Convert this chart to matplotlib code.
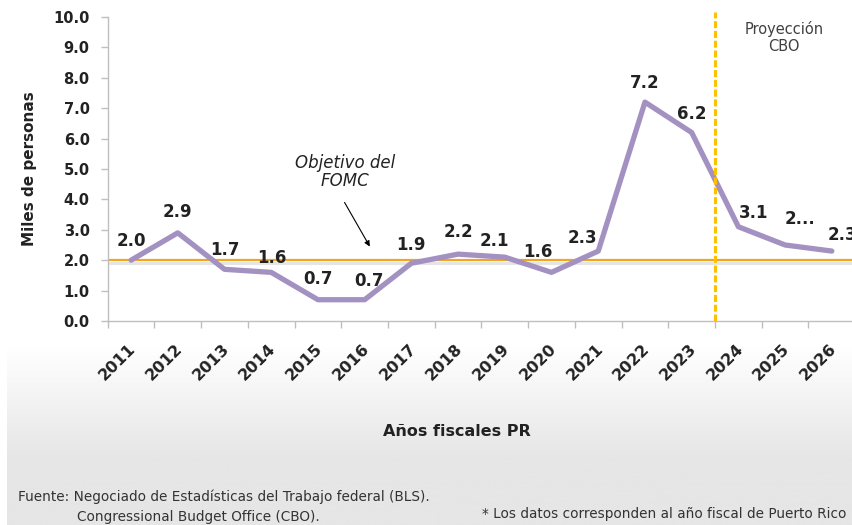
import numpy as np
import matplotlib
matplotlib.use("Agg")
import matplotlib.pyplot as plt
import matplotlib.transforms as mtransforms

# data
years = ["2011", "2012", "2013", "2014", "2015", "2016", "2017", "2018",
         "2019", "2020", "2021", "2022", "2023", "2024", "2025", "2026"]
values = [2.0, 2.9, 1.7, 1.6, 0.7, 0.7, 1.9, 2.2, 2.1, 1.6, 2.3, 7.2, 6.2, 3.1, 2.5, 2.3]
labels = ["2.0", "2.9", "1.7", "1.6", "0.7", "0.7", "1.9", "2.2",
          "2.1", "1.6", "2.3", "7.2", "6.2", "3.1", "2...", "2.3"]
target = 2.0
yticks = [0.0, 1.0, 2.0, 3.0, 4.0, 5.0, 6.0, 7.0, 8.0, 9.0, 10.0]

# label offsets in pixels (dx, dy above point)
label_dx = [0, 0, 0, 1, 0, 4, 0, 0, -10, -14, -16, 0, 0, 15, 15, 11]
label_dy = [19, 21, 19, 14, 21, 19, 18, 22, 16, 20, 13, 19, 19, 14, 26, 16]

purple = "#A391C2"
orange = "#F2A51F"
gold = "#FFC000"
dark = "#222222"
gray = "#BFBFBF"

fig = plt.figure(figsize=(8.53, 5.25), dpi=100)

# gray gradient at the bottom
bg = fig.add_axes([7 / 853, 0, 1, 178 / 525], zorder=-1)
grad = np.linspace(1.0, 0.0, 256).reshape(-1, 1)
grad = np.clip(grad * 1.6 - 0.6, 0, 1)  # keep top white
bg.imshow(grad, aspect="auto", cmap=matplotlib.colors.LinearSegmentedColormap.from_list(
    "g", ["#E6E6E6", "#FFFFFF"]), extent=[0, 1, 0, 1], origin="upper")
bg.axis("off")

ax = fig.add_axes([107.7 / 853, 1 - 321 / 525, 747.5 / 853, 304 / 525])
x = np.arange(len(years))

# FOMC target line with soft shadow
shadow = mtransforms.offset_copy(ax.transData, fig=fig, x=0, y=-2.5, units="dots")
ax.plot([-0.45, 15.5], [target, target], color="#999999", lw=2.2, alpha=0.25,
        transform=shadow, zorder=1)
ax.plot([-0.45, 15.5], [target, target], color=orange, lw=1.6, zorder=2)

ax.plot(x, values, color=purple, lw=3.8, solid_capstyle="round", zorder=3)

# projection divider
ax.axvline(12.5, ymin=0, ymax=1.018, color=gold, lw=2.2, dashes=(2.3, 0.9), clip_on=False, zorder=4)

for i, (v, lab) in enumerate(zip(values, labels)):
    ax.annotate(lab, (x[i], v), xytext=(label_dx[i] / 1.389, label_dy[i] / 1.389),
                textcoords="offset points", ha="center", va="center",
                fontsize=12, fontweight="bold", color=dark, zorder=5,
                annotation_clip=False)

ax.set_xlim(-0.5, 15.5)
ax.set_ylim(0, 10)
ax.set_yticks(yticks)
ax.set_yticklabels(["%.1f" % t for t in yticks], fontsize=10.5, fontweight="bold", color=dark)
ax.set_xticks(x)
ax.set_xticks(np.arange(-0.5, 16, 1), minor=True)
ax.tick_params(axis="x", which="major", length=0, pad=4)
ax.tick_params(axis="x", which="minor", length=5, color=gray, width=1)
ax.tick_params(axis="y", length=5, color=gray, width=1, pad=8)
ax.set_xticklabels(years, rotation=45, ha="right", rotation_mode="anchor",
                   fontsize=11.5, fontweight="bold", color=dark)
for t in ax.get_xticklabels():
    t.set_transform(t.get_transform() + mtransforms.ScaledTranslation(-3 / 100, -14 / 100, fig.dpi_scale_trans))

for s in ["top", "right"]:
    ax.spines[s].set_visible(False)
for s in ["left", "bottom"]:
    ax.spines[s].set_color(gray)
    ax.spines[s].set_linewidth(1)

ax.set_ylabel("Miles de personas", fontsize=11, fontweight="bold", color=dark)
ax.yaxis.set_label_coords(-71 / 747.5, 0.5)

ax.annotate("", xy=(5.14, 2.37), xytext=(4.54, 3.98),
            arrowprops=dict(arrowstyle="-|>", color="black", lw=0.8, mutation_scale=8))
ax.text(4.58, 4.9, "Objetivo del\nFOMC", ha="center", va="center", fontsize=12,
        fontstyle="italic", color=dark, linespacing=1.05)

ax.text(13.98, 9.33, "Proyección\nCBO", ha="center", va="center", fontsize=10.5,
        color="#404040", linespacing=1.2)

fig.text(457 / 853, 1 - 432 / 525, "Años fiscales PR", ha="center", va="center",
         fontsize=11.5, fontweight="bold", color=dark)
fig.text(18 / 853, 1 - 497 / 525, "Fuente: Negociado de Estadísticas del Trabajo federal (BLS).",
         ha="left", va="center", fontsize=9.8, color="#333333")
fig.text(77 / 853, 1 - 517 / 525, "Congressional Budget Office (CBO).",
         ha="left", va="center", fontsize=9.8, color="#333333")
fig.text(482 / 853, 1 - 514 / 525, "* Los datos corresponden al año fiscal de Puerto Rico",
         ha="left", va="center", fontsize=9.8, color="#333333")

fig.savefig("out.png", dpi=100)
